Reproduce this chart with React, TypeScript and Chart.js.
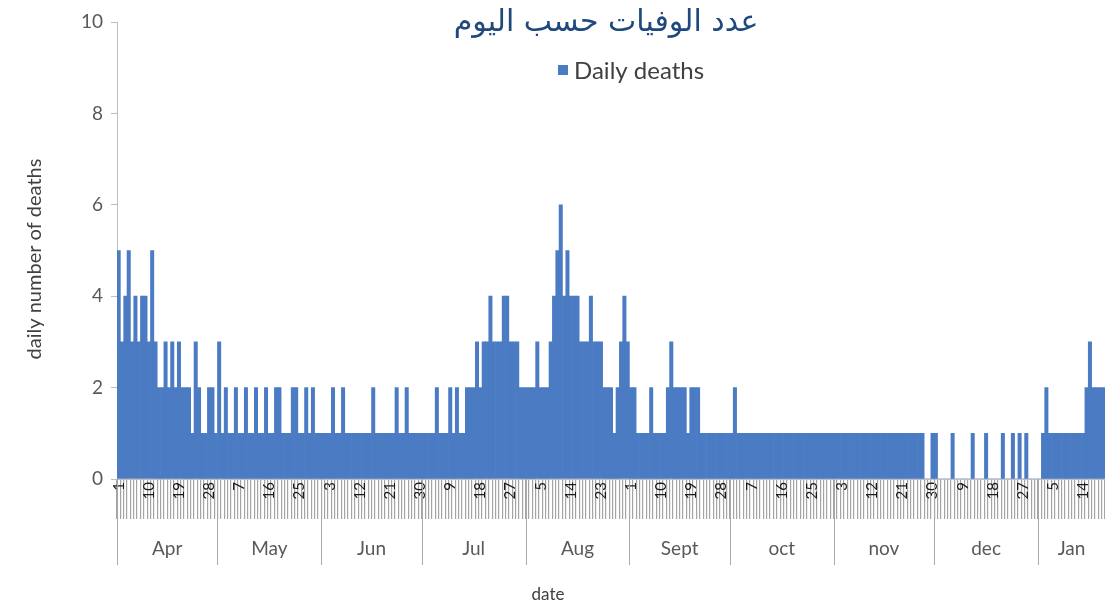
import React, { useEffect, useRef } from 'react';
import { Chart, registerables } from 'chart.js';

Chart.register(...registerables);

const titleText = 'عدد الوفيات حسب اليوم';
const seriesLabel = 'Daily deaths';
const yAxisTitle = 'daily number of deaths';
const xAxisTitle = 'date';

const monthNames = ['Apr', 'May', 'Jun', 'Jul', 'Aug', 'Sept', 'oct', 'nov', 'dec', 'Jan'];
const monthDays = [30, 31, 30, 31, 31, 30, 31, 30, 31, 20];

const aprDeaths = [5, 3, 4, 5, 3, 4, 3, 4, 4, 3, 5, 3, 2, 2, 3, 2, 3, 2, 3, 2, 2, 2, 1, 3, 2, 1, 1, 2, 2, 1];
const mayDeaths = [3, 1, 2, 1, 1, 2, 1, 1, 2, 1, 1, 2, 1, 1, 2, 1, 1, 2, 2, 1, 1, 1, 2, 2, 1, 1, 2, 1, 2, 1, 1];
const junDeaths = [1, 1, 1, 2, 1, 1, 2, 1, 1, 1, 1, 1, 1, 1, 1, 2, 1, 1, 1, 1, 1, 1, 2, 1, 1, 2, 1, 1, 1, 1];
const julDeaths = [1, 1, 1, 1, 2, 1, 1, 1, 2, 1, 2, 1, 1, 2, 2, 2, 3, 2, 3, 3, 4, 3, 3, 3, 4, 4, 3, 3, 3, 2, 2];
const augDeaths = [2, 2, 2, 3, 2, 2, 2, 3, 4, 5, 6, 4, 5, 4, 4, 4, 3, 3, 3, 4, 3, 3, 3, 2, 2, 2, 1, 2, 3, 4, 3];
const sepDeaths = [2, 2, 1, 1, 1, 1, 2, 1, 1, 1, 1, 2, 3, 2, 2, 2, 2, 1, 2, 2, 2, 1, 1, 1, 1, 1, 1, 1, 1, 1];
const octDeaths = [1, 2, 1, 1, 1, 1, 1, 1, 1, 1, 1, 1, 1, 1, 1, 1, 1, 1, 1, 1, 1, 1, 1, 1, 1, 1, 1, 1, 1, 1, 1];
const novDeaths = [1, 1, 1, 1, 1, 1, 1, 1, 1, 1, 1, 1, 1, 1, 1, 1, 1, 1, 1, 1, 1, 1, 1, 1, 1, 1, 1, 0, 0, 1];
const decDeaths = [1, 0, 0, 0, 0, 1, 0, 0, 0, 0, 0, 1, 0, 0, 0, 1, 0, 0, 0, 0, 1, 0, 0, 1, 0, 1, 0, 1, 0, 0, 0];
const janDeaths = [0, 1, 2, 1, 1, 1, 1, 1, 1, 1, 1, 1, 1, 1, 2, 3, 2, 2, 2, 2];

const yTicks = [0, 2, 4, 6, 8, 10];
const dayLabelEvery = 9;

const BAR_COLOR = '#4a7bc3';
const TEXT_COLOR = '#404040';
const AXIS_GREY = '#bfbfbf';
const LATIN_FONT = 'Lato, "Open Sans", sans-serif';

const allDeaths: number[] = [
  ...aprDeaths, ...mayDeaths, ...junDeaths, ...julDeaths, ...augDeaths,
  ...sepDeaths, ...octDeaths, ...novDeaths, ...decDeaths, ...janDeaths,
];
const dayLabels: string[] = [];
monthDays.forEach((n) => {
  for (let d = 1; d <= n; d++) dayLabels.push(String(d));
});

const overlayPlugin = {
  id: 'overlay',
  afterDraw(chart: any) {
    const { ctx, chartArea } = chart;
    const x = chart.scales.x;
    ctx.save();

    // Title (Arabic)
    ctx.fillStyle = '#1f497d';
    ctx.textAlign = 'center';
    ctx.textBaseline = 'middle';
    ctx.font = '24px "DejaVu Sans"';
    const w = ctx.measureText(titleText).width;
    const size = Math.max(12, Math.min(30, (24 * 325) / w));
    ctx.font = `${size.toFixed(1)}px "DejaVu Sans"`;
    ctx.fillText(titleText, 606, 23);

    // Legend
    ctx.fillStyle = BAR_COLOR;
    ctx.fillRect(558, 65, 10, 10);
    ctx.fillStyle = TEXT_COLOR;
    ctx.textAlign = 'left';
    ctx.font = `24px ${LATIN_FONT}`;
    ctx.fillText(seriesLabel, 574, 71);

    // Axis titles
    ctx.fillStyle = TEXT_COLOR;
    ctx.textAlign = 'center';
    ctx.font = `17px ${LATIN_FONT}`;
    ctx.fillText(xAxisTitle, 548, 595);
    ctx.save();
    ctx.translate(35, 259);
    ctx.rotate(-Math.PI / 2);
    ctx.font = `20px ${LATIN_FONT}`;
    ctx.fillText(yAxisTitle, 0, 0);
    ctx.restore();

    // Month band
    const step = x.getPixelForValue(1) - x.getPixelForValue(0);
    let start = 0;
    ctx.strokeStyle = '#a8a8a8';
    ctx.lineWidth = 1;
    ctx.fillStyle = '#595959';
    ctx.textAlign = 'center';
    ctx.font = `19px ${LATIN_FONT}`;
    monthDays.forEach((n, i) => {
      const left = x.getPixelForValue(start) - step / 2;
      const right = x.getPixelForValue(start + n - 1) + step / 2;
      const lx = Math.round(left) + 0.5;
      ctx.beginPath();
      ctx.moveTo(lx, chartArea.bottom);
      ctx.lineTo(lx, chartArea.bottom + 86);
      ctx.stroke();
      ctx.fillText(monthNames[i], (left + Math.min(right, chart.width)) / 2, chartArea.bottom + 70);
      start += n;
    });
    ctx.restore();
  },
};

export default function App() {
  const canvasRef = useRef<HTMLCanvasElement | null>(null);

  useEffect(() => {
    const canvas = canvasRef.current;
    if (!canvas) return;
    const chart = new Chart(canvas, {
      type: 'bar',
      data: {
        labels: dayLabels,
        datasets: [
          {
            label: seriesLabel,
            data: allDeaths,
            backgroundColor: BAR_COLOR,
            borderWidth: 0,
            barPercentage: 1,
            categoryPercentage: 1,
          },
        ],
      },
      options: {
        responsive: false,
        animation: false,
        layout: { padding: { top: 22, right: 0, left: 0, bottom: 0 } },
        plugins: {
          legend: { display: false },
          title: { display: false },
          tooltip: { enabled: false },
        },
        scales: {
          x: {
            type: 'category',
            offset: true,
            grid: {
              display: true,
              drawOnChartArea: false,
              drawTicks: true,
              tickLength: 40,
              color: '#a4a4a4',
              lineWidth: 1.2,
              offset: true,
            },
            border: { display: true, color: AXIS_GREY },
            ticks: {
              autoSkip: false,
              minRotation: 90,
              maxRotation: 90,
              padding: -37,
              color: '#1a1a1a',
              font: { family: LATIN_FONT, size: 15 },
              callback: (_v: any, index: number) => (index % dayLabelEvery === 0 ? dayLabels[index] : ''),
            },
            title: { display: false },
            afterFit: (scale: any) => {
              scale.height = 130;
            },
          },
          y: {
            min: 0,
            max: 10,
            afterBuildTicks: (scale: any) => {
              scale.ticks = yTicks.map((v) => ({ value: v }));
            },
            grid: {
              display: true,
              drawOnChartArea: false,
              drawTicks: true,
              tickLength: 6,
              color: AXIS_GREY,
            },
            border: { display: true, color: AXIS_GREY },
            ticks: {
              padding: 8,
              color: '#595959',
              font: { family: LATIN_FONT, size: 19 },
            },
            title: { display: false },
            afterFit: (scale: any) => {
              scale.width = 117;
            },
          },
        },
      },
      plugins: [overlayPlugin],
    });
    return () => chart.destroy();
  }, []);

  return (
    <div style={{ position: 'fixed', left: 0, top: 0, width: 1105, height: 609, background: '#fff' }}>
      <canvas ref={canvasRef} width={1105} height={609} />
    </div>
  );
}
